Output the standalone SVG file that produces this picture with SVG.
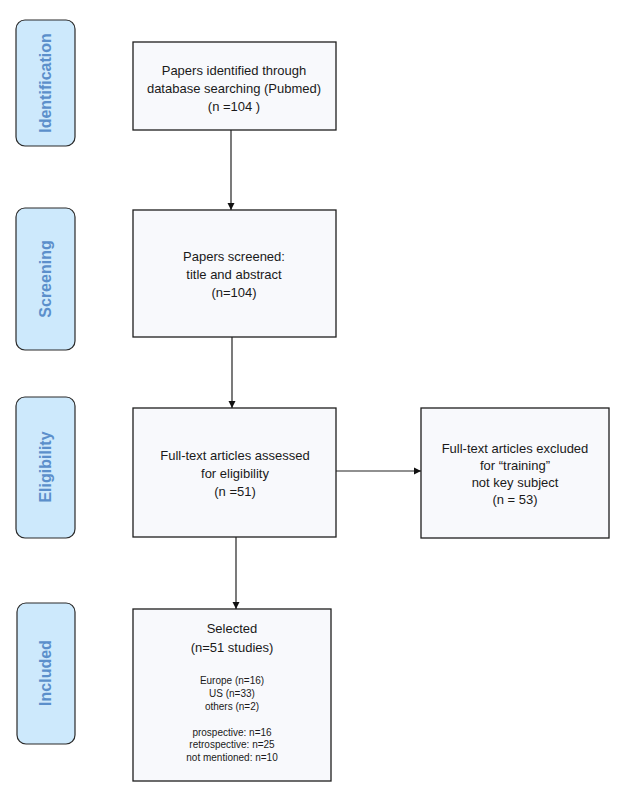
<svg xmlns="http://www.w3.org/2000/svg" width="630" height="807" viewBox="0 0 630 807">
<style>
.stage{fill:#cde9fc;stroke:#2a2a2a;stroke-width:1.2}
.stxt{font-family:"Liberation Sans",Arial,sans-serif;font-size:16px;font-weight:bold;fill:#5b8fcb;text-anchor:middle}
.box{fill:#f8f9fc;stroke:#1e1e1e;stroke-width:1.3}
.t{font-family:"Liberation Sans",Arial,sans-serif;font-size:13px;fill:#1a1a1a;text-anchor:middle}
.s{font-family:"Liberation Sans",Arial,sans-serif;font-size:10px;fill:#1a1a1a;text-anchor:middle}
.c{stroke:#222;stroke-width:1.2;fill:none;marker-end:url(#ah)}
</style>
<defs>
<marker id="ah" markerWidth="8" markerHeight="8" refX="7" refY="4" orient="auto" markerUnits="userSpaceOnUse">
<path d="M0,0.5 L7,4 L0,7.5 z" fill="#111"/>
</marker>
</defs>
<rect width="630" height="807" fill="#ffffff"/>
<g id="stage-identification">
<rect class="stage" x="16" y="20" width="59" height="126" rx="9"/>
<text class="stxt" transform="translate(51,83) rotate(-90)">Identification</text>
</g>
<g id="stage-screening">
<rect class="stage" x="16" y="208" width="59" height="142" rx="9"/>
<text class="stxt" transform="translate(51,279) rotate(-90)">Screening</text>
</g>
<g id="stage-eligibility">
<rect class="stage" x="16" y="397" width="59" height="141" rx="9"/>
<text class="stxt" transform="translate(51,467) rotate(-90)">Eligibility</text>
</g>
<g id="stage-included">
<rect class="stage" x="17" y="603" width="58" height="141" rx="9"/>
<text class="stxt" transform="translate(51,673) rotate(-90)">Included</text>
</g>
<g id="box-identified">
<rect class="box" x="133" y="42" width="203" height="88"/>
<text class="t" x="234" y="75">Papers identified through</text>
<text class="t" x="234" y="93">database searching (Pubmed)</text>
<text class="t" x="234" y="111">(n =104 )</text>
</g>
<g id="box-screened">
<rect class="box" x="133" y="210" width="203" height="127"/>
<text class="t" x="234" y="261">Papers screened:</text>
<text class="t" x="234" y="279">title and abstract</text>
<text class="t" x="234" y="297">(n=104)</text>
</g>
<g id="box-eligibility">
<rect class="box" x="133" y="408" width="203" height="129"/>
<text class="t" x="235" y="460">Full-text articles assessed</text>
<text class="t" x="235" y="478">for eligibility</text>
<text class="t" x="235" y="496">(n =51)</text>
</g>
<g id="box-excluded">
<rect class="box" x="421" y="408" width="188" height="130"/>
<text class="t" x="515" y="453">Full-text articles excluded</text>
<text class="t" x="515" y="470">for “training”</text>
<text class="t" x="515" y="487">not key subject</text>
<text class="t" x="515" y="504">(n = 53)</text>
</g>
<g id="box-selected">
<rect class="box" x="133" y="609" width="198" height="172"/>
<text class="t" x="232" y="633">Selected</text>
<text class="t" x="232" y="652">(n=51 studies)</text>
<text class="s" x="232" y="684">Europe (n=16)</text>
<text class="s" x="232" y="697">US (n=33)</text>
<text class="s" x="232" y="710">others (n=2)</text>
<text class="s" x="232" y="736">prospective: n=16</text>
<text class="s" x="232" y="748">retrospective: n=25</text>
<text class="s" x="232" y="761">not mentioned: n=10</text>
</g>
<g id="connectors">
<line class="c" x1="231" y1="130" x2="231" y2="210"/>
<line class="c" x1="232" y1="337" x2="232" y2="408"/>
<line class="c" x1="236" y1="537" x2="236" y2="609"/>
<line class="c" x1="336" y1="471" x2="421" y2="471"/>
</g>
</svg>
